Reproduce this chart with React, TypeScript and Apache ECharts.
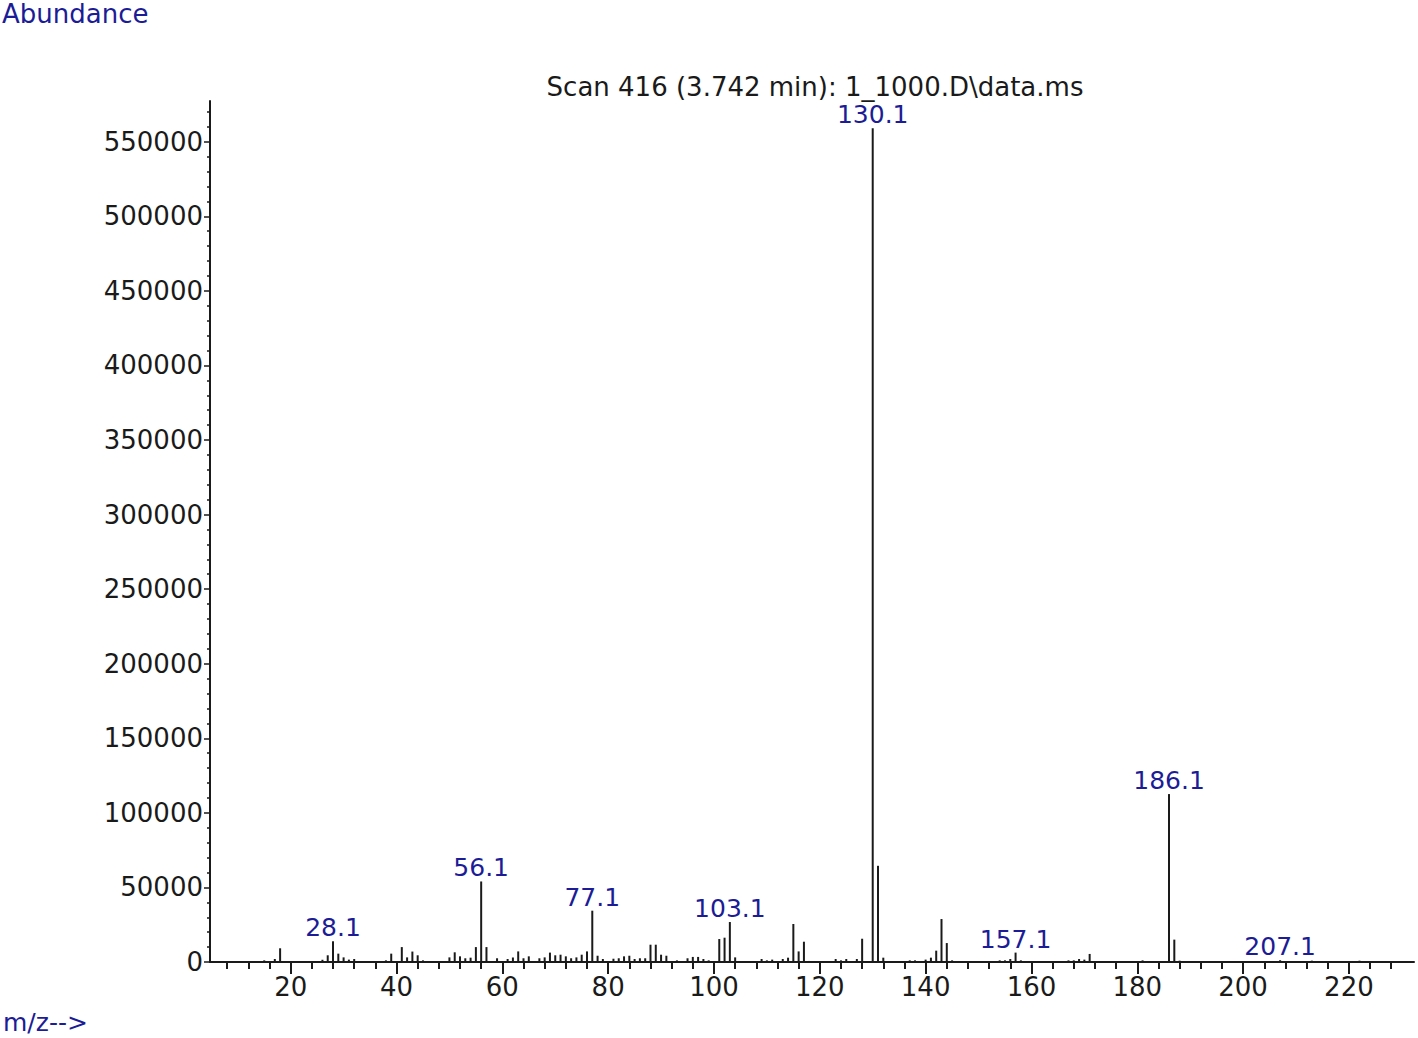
import React, { useEffect, useRef } from "react";
import * as echarts from "echarts";

// m/z of each peak and its abundance
const mzValues = [
  15, 17, 18, 26, 27, 28, 29, 30, 31, 32, 38, 39, 41, 42, 43, 44, 45,
  50, 51, 52, 53, 54, 55, 56, 57, 59, 61, 62, 63, 64, 65, 67, 68, 69, 70,
  71, 72, 73, 74, 75, 76, 77, 78, 79, 81, 82, 83, 84, 85, 86, 87, 88, 89,
  90, 91, 93, 95, 96, 97, 98, 99, 101, 102, 103, 104, 109, 110, 111, 113,
  114, 115, 116, 117, 118, 123, 124, 125, 127, 128, 130, 131, 132, 137,
  138, 140, 141, 142, 143, 144, 145, 154, 155, 156, 157, 158, 167, 168,
  169, 170, 171, 181, 186, 187, 188, 207, 213, 222,
];
const abundances = [
  1100, 2000, 9200, 1500, 4500, 13900, 5600, 3100, 1600, 2000, 1100, 5600, 10000, 3100, 7000, 4500, 1100,
  3100, 6500, 3800, 2500, 2900, 10000, 54000, 10000, 2500, 2000, 3100, 7100, 2500, 3800, 2500, 3100, 6300, 4500,
  4900, 3800, 2500, 3100, 4900, 7100, 34400, 4200, 2000, 2200, 2500, 3800, 4200, 2000, 2500, 2500, 11600, 11600,
  4900, 4200, 1100, 2500, 3400, 3400, 2000, 1100, 15400, 16300, 26800, 3100, 2000, 1100, 1600, 2000,
  2900, 25500, 7100, 13600, 700, 2000, 1100, 2000, 2000, 15600, 559000, 64500, 2900, 1100,
  1100, 1600, 2900, 7600, 28800, 12700, 1100, 1100, 1100, 2000, 6300, 1100, 1100, 1100,
  2000, 1600, 5400, 1100, 112600, 15000, 900, 1200, 900, 900,
];
const peakLabels = [28.1, 56.1, 77.1, 103.1, 130.1, 157.1, 186.1, 207.1];

const xMajorTicks = [20, 40, 60, 80, 100, 120, 140, 160, 180, 200, 220];
const xMinorTicks = [
  8, 12, 16, 24, 28, 32, 36, 44, 48, 52, 56, 64, 68, 72, 76, 84, 88, 92, 96,
  104, 108, 112, 116, 124, 128, 132, 136, 144, 148, 152, 156, 164, 168, 172,
  176, 184, 188, 192, 196, 204, 208, 212, 216, 224, 228,
];
const yMajorTicks = [0, 50000, 100000, 150000, 200000, 250000, 300000, 350000, 400000, 450000, 500000, 550000];
const yMinorTicks = Array.from({ length: 58 }, (_, i) => i * 10000).filter((v) => v % 50000 !== 0);

const titleText = "Scan 416 (3.742 min): 1_1000.D\\data.ms";
const yTitle = "Abundance";
const xTitle = "m/z-->";

const X_MIN = 4.75;
const X_MAX = 232.3;
const Y_MAX = 577300;

const FONT = "DejaVu Sans";
const BLUE = "#1c1c96";
const INK = "#1a1a1a";

export default function App() {
  const ref = useRef<HTMLDivElement>(null);

  useEffect(() => {
    document.body.style.margin = "0";
    const chart = echarts.init(ref.current!, undefined, { renderer: "svg" });

    const data = mzValues.map((mz, i) => {
      const lab = peakLabels.find((p) => Math.round(p) === mz);
      const item: any = { value: [mz, abundances[i]] };
      if (lab !== undefined) {
        item.label = {
          show: true,
          position: "top",
          distance: 1,
          formatter: lab.toFixed(1),
          color: BLUE,
          fontFamily: FONT,
          fontSize: 25,
        };
      }
      return item;
    });

    const baseX = {
      type: "value",
      min: X_MIN,
      max: X_MAX,
      position: "bottom",
      splitLine: { show: false },
    };
    const baseY = {
      type: "value",
      min: 0,
      max: Y_MAX,
      position: "left",
      splitLine: { show: false },
    };

    chart.setOption({
      animation: false,
      backgroundColor: "#ffffff",
      grid: { left: 210, right: 4, top: 101, bottom: 76, containLabel: false },
      xAxis: [
        {
          ...baseX,
          axisLine: { show: true, lineStyle: { color: INK, width: 2 } },
          axisTick: { show: true, customValues: xMinorTicks, length: 7, lineStyle: { color: INK, width: 2 } },
          axisLabel: { show: false },
        },
        {
          ...baseX,
          axisLine: { show: false },
          axisTick: { show: true, customValues: xMajorTicks, length: 12, lineStyle: { color: INK, width: 2 } },
          axisLabel: {
            show: true,
            customValues: xMajorTicks,
            margin: 12,
            color: INK,
            fontFamily: FONT,
            fontSize: 26,
            formatter: (v: number) => String(v),
          },
        },
      ],
      yAxis: [
        {
          ...baseY,
          axisLine: { show: true, lineStyle: { color: INK, width: 2 } },
          axisTick: { show: true, customValues: yMinorTicks, length: 3, lineStyle: { color: INK, width: 1.5 } },
          axisLabel: { show: false },
        },
        {
          ...baseY,
          axisLine: { show: false },
          axisTick: { show: true, customValues: yMajorTicks, length: 6, lineStyle: { color: INK, width: 1.5 } },
          axisLabel: {
            show: true,
            customValues: yMajorTicks,
            margin: 7,
            color: INK,
            fontFamily: FONT,
            fontSize: 26,
            formatter: (v: number) => String(v),
          },
        },
      ],
      series: [
        {
          type: "bar",
          xAxisIndex: 0,
          yAxisIndex: 0,
          barWidth: 2,
          silent: true,
          itemStyle: { color: INK },
          data,
        },
      ],
      graphic: [
        {
          type: "text",
          x: 2,
          y: 14,
          style: { text: yTitle, fill: BLUE, font: `26px "${FONT}"`, align: "left", verticalAlign: "middle" },
        },
        {
          type: "text",
          x: 815,
          y: 87,
          style: { text: titleText, fill: INK, font: `26px "${FONT}"`, align: "center", verticalAlign: "middle" },
        },
        {
          type: "text",
          x: 3,
          y: 1022,
          style: { text: xTitle, fill: BLUE, font: `25px "${FONT}"`, align: "left", verticalAlign: "middle" },
        },
      ],
    });

    return () => chart.dispose();
  }, []);

  return <div ref={ref} style={{ width: 1418, height: 1038 }} />;
}
